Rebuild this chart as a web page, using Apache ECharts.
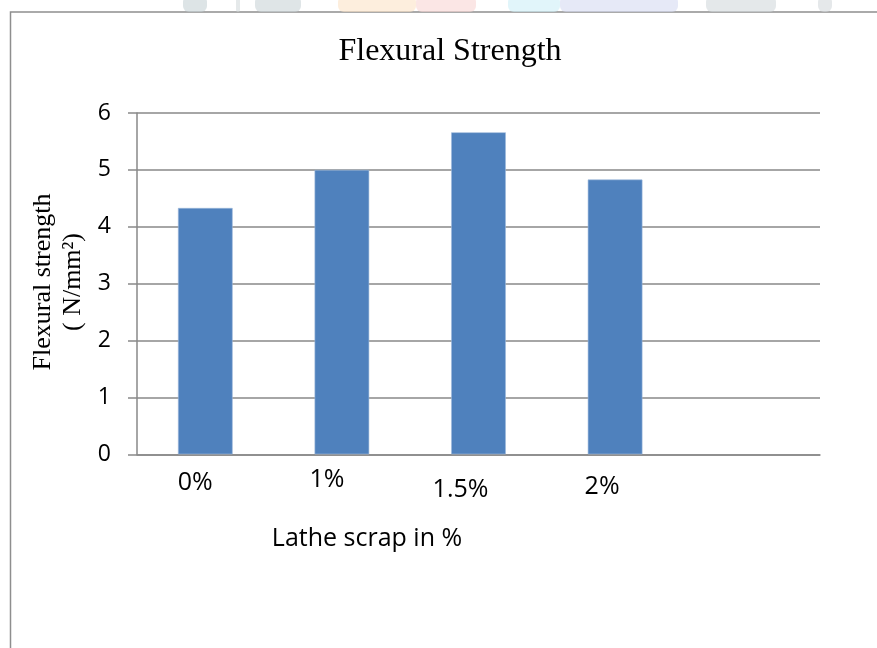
<!DOCTYPE html>
<html>
<head>
<meta charset="utf-8">
<title>Flexural Strength</title>
<script src="https://cdn.jsdelivr.net/npm/echarts@6/dist/echarts.min.js"></script>
<style>
  html, body { margin: 0; padding: 0; background: #ffffff; }
  #chart { width: 877px; height: 648px; }
</style>
</head>
<body>
<div id="chart"></div>
<script>
// Lathe scrap content (last slot is an empty category, kept for spacing)
const categories = ['0%', '1%', '1.5%', '2%', ''];
// Flexural strength in N/mm²
const strengthValues = [4.33, 5.0, 5.66, 4.83, null];
// Value axis ticks
const yTicks = [0, 1, 2, 3, 4, 5, 6];

const titleText = 'Flexural Strength';
const yTitleLines = ['Flexural strength', '( N/mm²)'];
const xTitleText = 'Lathe scrap in %';

// Hand-placed category label nudges: [shift left px, shift down px]
const labelNudge = [[10, 3], [15, 0], [18, 10.5], [13, 7], [0, 0]];

const sansFont = '"Open Sans", "Noto Sans", sans-serif';
const serifFont = '"Liberation Serif", "DejaVu Serif", serif';
const gridGray = '#898989';
const ink = '#000000';

const rich = {};
labelNudge.forEach(function (n, i) {
  rich['c' + i] = {
    fontFamily: sansFont,
    fontSize: 25,
    color: ink,
    padding: [n[1], n[0] * 2, 0, 0]
  };
});

const chart = echarts.init(document.getElementById('chart'), null, { renderer: 'canvas' });

// Faint banner shapes peeking above the frame
const bannerBits = [
  { x: 183, w: 24, c: '#c7d2d5' },
  { x: 236, w: 4, c: '#d3dadc' },
  { x: 255, w: 46, c: '#c9d4d7' },
  { x: 338, w: 78, c: '#fbe2c6' },
  { x: 416, w: 60, c: '#f8d6d3' },
  { x: 508, w: 52, c: '#cdeef6' },
  { x: 560, w: 118, c: '#d6dbf1' },
  { x: 706, w: 70, c: '#d2d9dc' },
  { x: 818, w: 14, c: '#d3d9dc' }
];

const graphics = bannerBits.map(function (b) {
  return {
    type: 'rect',
    shape: { x: b.x, y: -4, width: b.w, height: 16, r: 6 },
    style: { fill: b.c, opacity: 0.6 },
    silent: true,
    z: 0
  };
});

graphics.push(
  {
    type: 'rect',
    shape: { x: 10.5, y: 12, width: 900, height: 700 },
    style: { fill: '#ffffff', stroke: '#8e8e8e', lineWidth: 1.5 },
    silent: true,
    z: -1
  },
  {
    type: 'text',
    x: 450,
    y: 52,
    style: {
      text: titleText,
      font: '32px ' + serifFont,
      fill: ink,
      textAlign: 'center',
      textVerticalAlign: 'middle'
    },
    z: 5
  },
  {
    type: 'text',
    x: 367,
    y: 539,
    style: {
      text: xTitleText,
      font: '25px ' + sansFont,
      fill: ink,
      textAlign: 'center',
      textVerticalAlign: 'middle'
    },
    z: 5
  },
  {
    type: 'text',
    x: 58,
    y: 282,
    rotation: Math.PI / 2,
    style: {
      text: yTitleLines.join('\n'),
      font: '26px ' + serifFont,
      lineHeight: 30,
      fill: ink,
      textAlign: 'center',
      textVerticalAlign: 'middle'
    },
    z: 5
  }
);

chart.setOption({
  backgroundColor: '#ffffff',
  animation: false,
  grid: {
    left: 137,
    right: 57,
    top: 113,
    bottom: 193.7,
    containLabel: false
  },
  xAxis: {
    type: 'category',
    data: categories,
    boundaryGap: true,
    axisLine: { show: true, lineStyle: { color: gridGray, width: 1.5 } },
    axisTick: { show: false },
    axisLabel: {
      interval: 0,
      margin: 13,
      verticalAlign: 'top',
      formatter: function (v, i) { return v ? '{c' + i + '|' + v + '}' : ''; },
      rich: rich
    },
    splitLine: { show: false }
  },
  yAxis: {
    type: 'value',
    min: yTicks[0],
    max: yTicks[yTicks.length - 1],
    interval: 1,
    axisLine: { show: true, lineStyle: { color: gridGray, width: 1.5 } },
    axisTick: { show: true, inside: false, length: 9, lineStyle: { color: gridGray, width: 1.5 } },
    axisLabel: {
      margin: 26,
      fontFamily: sansFont,
      fontSize: 23,
      color: ink
    },
    splitLine: { show: true, lineStyle: { color: gridGray, width: 1.5 } }
  },
  series: [{
    type: 'bar',
    data: strengthValues,
    barWidth: '40%',
    itemStyle: { color: '#4f81bd', borderColor: '#9db8dc', borderWidth: 0.6 },
    emphasis: { disabled: true }
  }],
  graphic: graphics
});
</script>
</body>
</html>
